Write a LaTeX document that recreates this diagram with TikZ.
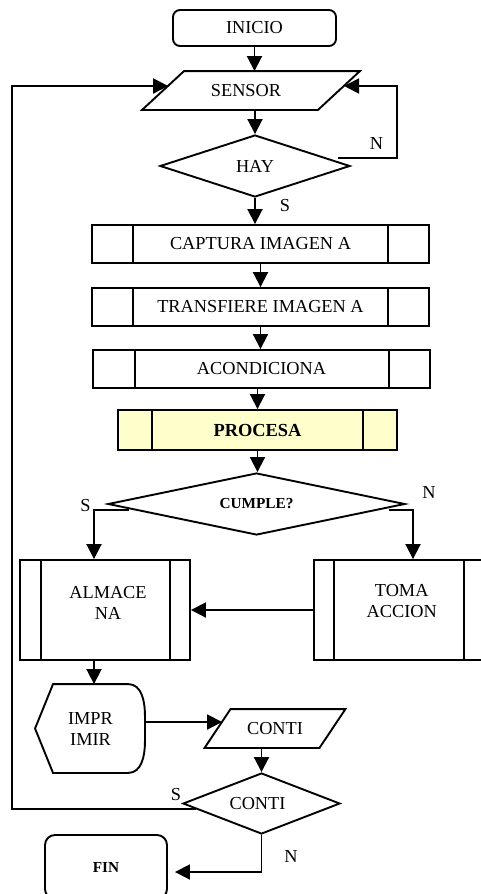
\documentclass[tikz,border=0pt]{standalone}
\usepackage{fontspec}
\setmainfont{Liberation Serif}
\usetikzlibrary{arrows.meta,shapes.geometric,calc}
\definecolor{procfill}{RGB}{255,255,204}
\begin{document}
\begin{tikzpicture}[x=1pt,y=-1pt,line width=1.9pt,
  every node/.style={font=\fontsize{18.3}{21}\selectfont, inner sep=0pt},
  box/.style={draw, rectangle},
  diam/.style={draw, diamond, aspect=2.6, inner sep=0pt},
  smallbold/.style={font=\fontsize{15.3}{18}\selectfont\bfseries},
  arr/.style={-{Triangle[length=15pt,width=15pt]}},
  lbl/.style={font=\fontsize{18.3}{21}\selectfont}
]
\useasboundingbox (0,0) rectangle (481,894);
\fill[white] (0,0) rectangle (481,894);
\clip (0,0) rectangle (481,894);

% nodes
\node[box, rounded corners=7pt, minimum width=163pt, minimum height=36pt] (inicio) at (254.5,28) {INICIO};
\node[minimum width=174pt, minimum height=37pt] (sensor) at (251,90.5) {SENSOR\hspace*{10pt}};
\draw ([xshift=-21pt]sensor.south west) -- ([xshift=-21pt]sensor.south east) -- ([xshift=21pt]sensor.north east) -- ([xshift=21pt]sensor.north west) -- cycle;
\node[diam, minimum width=190pt, minimum height=62pt] (hay) at (255,166) {HAY};

\node[box, minimum width=337pt, minimum height=38pt] (captura) at (260.5,244) {CAPTURA IMAGEN A};
\node[box, minimum width=337pt, minimum height=38pt] (transfiere) at (260.5,307) {TRANSFIERE IMAGEN A};
\node[box, minimum width=337pt, minimum height=38pt] (acond) at (261.5,369) {ACONDICIONA};
\node[box, fill=procfill, minimum width=279pt, minimum height=40pt, font=\fontsize{18.4}{21}\selectfont\bfseries] (procesa) at (257.5,430) {PROCESA};
\node[diam, smallbold, minimum width=297pt, minimum height=62pt] (cumple) at (256.5,504) {CUMPLE?};

\node[box, minimum width=170pt, minimum height=100pt] (almacena) at (105,610) {};
\node[align=center] (almacenaT) at (108,602.8) {ALMACE\\NA};
\node[box, minimum width=170pt, minimum height=100pt] (toma) at (399,610) {};
\node[align=center] (tomaT) at (401.7,600.7) {TOMA\\ACCION};

\node[minimum width=73pt, minimum height=87pt, align=center] (imprimir) at (90.5,728.5) {IMPR\\IMIR};
\draw ([xshift=-18pt]imprimir.west) -- (imprimir.north west) -- (imprimir.north east)
  to[out=0,in=90] ($(imprimir.east)+(17,-13)$) -- ($(imprimir.east)+(17,13)$)
  to[out=-90,in=0] (imprimir.south east) -- (imprimir.south west) -- cycle;

\node[minimum width=113pt, minimum height=37pt] (conti) at (275,728.5) {CONTI};
\draw ([xshift=-13pt]conti.south west) -- ([xshift=-13pt]conti.south east) -- ([xshift=13pt]conti.north east) -- ([xshift=13pt]conti.north west) -- cycle;
\node[diam, minimum width=157pt, minimum height=61pt] (condiam) at (261.5,803.5) {CONTI\hspace*{8pt}};
\node[box, smallbold, rounded corners=10pt, minimum width=122pt, minimum height=64pt] (fin) at (106,867) {FIN};

% inner lines of predefined processes
\foreach \n/\a/\b in {captura/42/42, transfiere/42/42, acond/43/42, procesa/35/35, almacena/22/21, toma/21/21}{
  \draw ([xshift=\a pt]\n.north west) -- ([xshift=\a pt]\n.south west);
  \draw ([xshift=-\b pt]\n.north east) -- ([xshift=-\b pt]\n.south east);
}

% coordinates
\coordinate (sensorL) at ($(sensor.west)+(5.1,-4.5)$);
\coordinate (sensorR) at ($(sensor.east)+(5.1,-4.5)$);
\coordinate (hayN) at ($(hay.east)+(-13,-8)$);
\coordinate (loopR) at (397,86);
\coordinate (loopL) at (12,86);
\coordinate (cdS) at ($(condiam.west)+(14,5.5)$);
\coordinate (cuS) at ($(cumple.west)+(22,6)$);
\coordinate (almIn) at ($(almacena.north)+(-11,0)$);
\coordinate (cuN) at ($(cumple.east)+(-17,6)$);
\coordinate (tomIn) at ($(toma.north)+(14,0)$);
\coordinate (almOut) at ($(almacena.south)+(-11,0)$);
\coordinate (impOut) at ($(imprimir.east)+(17,-6.5)$);
\coordinate (contiIn) at ($(conti.west)+(4.5,-6.5)$);
\coordinate (finIn) at ($(fin.east)+(7,5)$);

% connectors
\draw[arr] (inicio.south) -- (inicio.south |- sensor.north);
\draw[arr] (hay.north |- sensor.south) -- (hay.north);
\draw[arr] (hayN) -| (loopR) -- (sensorR);
\draw[arr] (hay.south) -- (hay.south |- captura.north);
\draw[arr] (captura.south) -- (transfiere.north);
\draw[arr] (transfiere.south) -- (transfiere.south |- acond.north);
\draw[arr] (procesa.north |- acond.south) -- (procesa.north);
\draw[arr] (procesa.south) -- (procesa.south |- cumple.north);
\draw[arr] (cuS) -| (almIn);
\draw[arr] (cuN) -| (tomIn);
\draw[arr] (toma.west) -- (almacena.east);
\draw[arr] (almOut) -- (almOut |- imprimir.north);
\draw[arr] (impOut) -- (contiIn);
\draw[arr] (condiam.north |- conti.south) -- (condiam.north);
\draw[arr] (cdS) -| (loopL) -- (sensorL);
\draw[arr] (condiam.south) |- (finIn);

% labels
\node[lbl] (lHayN) at (376.5,143.5) {N};
\node[lbl] (lHayS) at (285,206) {S};
\node[lbl] (lCuS) at (85.5,506) {S};
\node[lbl] (lCuN) at (429,493) {N};
\node[lbl] (lCdS) at (176,794.5) {S};
\node[lbl] (lCdN) at (291,856.5) {N};
\end{tikzpicture}
\end{document}
